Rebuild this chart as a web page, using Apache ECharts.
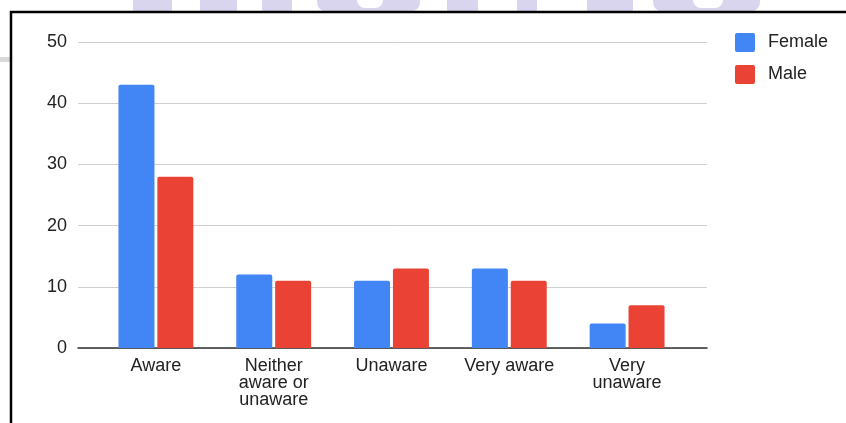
<!DOCTYPE html>
<html>
<head>
<meta charset="utf-8">
<script src="https://cdn.jsdelivr.net/npm/echarts@6/dist/echarts.min.js"></script>
<style>
  html, body { margin: 0; padding: 0; background: #fff; }
  #chart { width: 846px; height: 423px; }
</style>
</head>
<body>
<div id="chart"></div>
<script>
// Awareness responses by gender
const categories = ['Aware', 'Neither aware or unaware', 'Unaware', 'Very aware', 'Very unaware'];
const femaleValues = [43, 12, 11, 13, 4];
const maleValues = [28, 11, 13, 11, 7];
const yTicks = { min: 0, max: 50, interval: 10 };

const FONT = 'Liberation Sans, Arial, sans-serif';
const TEXT = '#222';
const WM = '#d9d5ee';

// greedy word wrap for category names (max characters per line)
function wrapLabel(text, maxChars) {
  const words = text.split(' ');
  const lines = [];
  let cur = '';
  words.forEach(w => {
    const next = cur ? cur + ' ' + w : w;
    if (cur && next.length > maxChars) { lines.push(cur); cur = w; }
    else cur = next;
  });
  if (cur) lines.push(cur);
  return lines.join('\n');
}

// faint banner letters peeking above the frame
const banner = [
  [133, 172], [200, 237], [262, 292], [447, 478], [517, 537], [587, 633]
].map(([a, b]) => ({ type: 'rect', shape: { x: a, y: 0, width: b - a, height: 12 }, style: { fill: WM }, silent: true }));
banner.push(
  { type: 'rect', shape: { x: 317, y: 0, width: 103, height: 12, r: [0, 0, 10, 10] }, style: { fill: WM }, silent: true },
  { type: 'rect', shape: { x: 357, y: 0, width: 26, height: 8, r: [0, 0, 8, 8] }, style: { fill: '#fff' }, silent: true },
  { type: 'rect', shape: { x: 653, y: 0, width: 107, height: 12, r: [0, 0, 10, 10] }, style: { fill: WM }, silent: true },
  { type: 'rect', shape: { x: 693, y: 0, width: 30, height: 8, r: [0, 0, 8, 8] }, style: { fill: '#fff' }, silent: true }
);

const chart = echarts.init(document.getElementById('chart'), null, { renderer: 'canvas' });
chart.setOption({
  backgroundColor: '#fff',
  animation: false,
  textStyle: { fontFamily: FONT },
  graphic: banner.concat([
    { type: 'rect', shape: { x: 0, y: 57, width: 10, height: 5 }, style: { fill: '#d9d9d9' }, silent: true },
    { type: 'rect', shape: { x: 11, y: 12, width: 900, height: 500 }, style: { fill: 'none', stroke: '#000', lineWidth: 2.5 }, silent: true, z: 100 }
  ]),
  legend: {
    orient: 'vertical',
    left: 735,
    top: 33,
    padding: 0,
    itemWidth: 20,
    itemHeight: 19,
    itemGap: 13,
    icon: 'path://M2,0 L18,0 Q20,0 20,2 L20,17 Q20,19 18,19 L2,19 Q0,19 0,17 L0,2 Q0,0 2,0 Z',
    textStyle: { fontSize: 18, color: TEXT, fontFamily: FONT, padding: [0, 0, 0, 8] },
    data: ['Female', 'Male']
  },
  grid: [
    { left: 78, right: 139, top: 42, bottom: 75 },
    { left: 97, right: 160, top: 42, bottom: 75 }
  ],
  xAxis: [
    {
      gridIndex: 0, type: 'value', min: 0, max: 1,
      axisLine: { show: true, lineStyle: { color: '#333', width: 1.5 } },
      axisTick: { show: false }, axisLabel: { show: false }, splitLine: { show: false }
    },
    {
      gridIndex: 1, type: 'category', data: categories,
      axisLine: { show: false }, axisTick: { show: false },
      axisLabel: {
        interval: 0, margin: 10, fontSize: 18, color: TEXT, fontFamily: FONT,
        lineHeight: 17, align: 'center',
        formatter: v => wrapLabel(v, 10)
      }
    }
  ],
  yAxis: [
    {
      gridIndex: 0, type: 'value', min: yTicks.min, max: yTicks.max, interval: yTicks.interval,
      axisLine: { show: false }, axisTick: { show: false },
      axisLabel: { margin: 11, fontSize: 18, color: TEXT, fontFamily: FONT },
      splitLine: { lineStyle: { color: '#cfcfcf', width: 1 } }
    },
    {
      gridIndex: 1, type: 'value', min: yTicks.min, max: yTicks.max, interval: yTicks.interval,
      show: false, splitLine: { show: false }
    }
  ],
  series: [
    {
      name: 'Female', type: 'bar', xAxisIndex: 1, yAxisIndex: 1,
      data: femaleValues, barWidth: 36, barGap: '8%',
      itemStyle: { color: '#4285F4', borderRadius: [2, 2, 0, 0] }
    },
    {
      name: 'Male', type: 'bar', xAxisIndex: 1, yAxisIndex: 1,
      data: maleValues, barWidth: 36, barGap: '8%',
      itemStyle: { color: '#EA4335', borderRadius: [2, 2, 0, 0] }
    }
  ]
});
</script>
</body>
</html>
